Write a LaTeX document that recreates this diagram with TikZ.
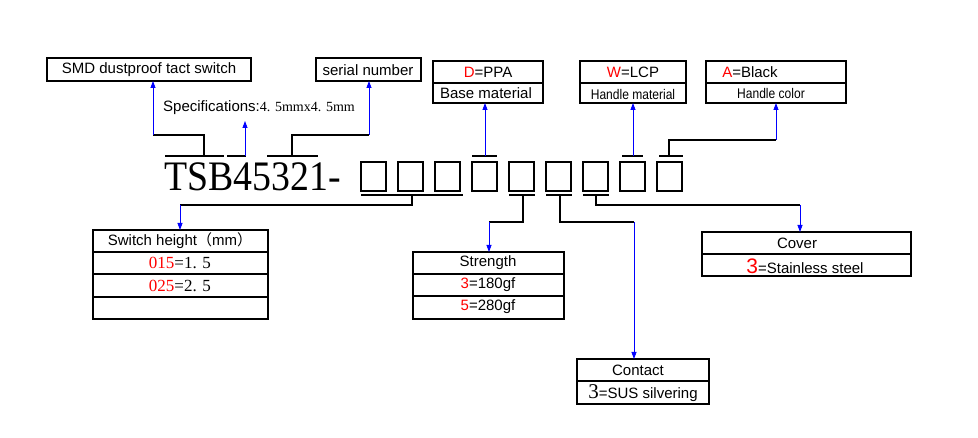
\documentclass[tikz,border=0pt]{standalone}
\usepackage{fontspec}
\setmainfont{Liberation Sans}
\newfontfamily\serifnum{Liberation Serif}
\newfontfamily\cjk{Noto Sans CJK SC}
\usetikzlibrary{arrows.meta}
\begin{document}
\begin{tikzpicture}[x=1pt,y=-1pt,
  bx/.style={line width=1.6pt},
  ln/.style={line width=1.3pt},
  arr/.style={blue,line width=0.8pt,-{Triangle[length=7pt,width=5pt]}},
  lbl/.style={inner sep=0pt,font=\fontsize{15}{15}\selectfont},
  nm/.style={inner sep=0pt,font=\serifnum\fontsize{17}{17}\selectfont}]
\useasboundingbox[fill=white] (0,0) rectangle (978,438);
% top boxes
\draw[bx] (47,58) rectangle (251,81);
\node[lbl] (smd) at (149,70) {SMD dustproof tact switch};
\coordinate (smdb) at (153,81);
\draw[bx] (316,58) rectangle (421,81);
\node[lbl] (ser) at (368,70) {serial number};
\coordinate (serb) at (369,81);
\draw[bx] (433,61) rectangle (543,103); \draw[bx] (433,83)--(543,83);
\node[lbl] (d) at (488,72) {\textcolor{red}{D}=PPA};
\node[lbl] (dm) at (486,93) {Base material};
\coordinate (db) at (485,103);
\draw[bx] (580,61) rectangle (686,103); \draw[bx] (580,83)--(686,83);
\node[lbl] (w) at (633,72) {\textcolor{red}{W}=LCP};
\node[lbl,font=\fontsize{14}{14}\selectfont,xscale=0.86] (wm) at (633,94) {Handle material};
\coordinate (wb) at (633,103);
\draw[bx] (706,61) rectangle (846,103); \draw[bx] (706,83)--(846,83);
\node[lbl] (a) at (750,72) {\textcolor{red}{A}=Black};
\node[lbl,font=\fontsize{14}{14}\selectfont,xscale=0.86] (am) at (771,93) {Handle color};
\coordinate (ab) at (776,103);
\node[lbl,anchor=west] (spec) at (163,108) {Specifications:{\serifnum\fontsize{14}{14}\selectfont 4. 5mmx4. 5mm}};
% main code
\node[inner sep=0pt,anchor=base west,font=\serifnum\fontsize{42}{42}\selectfont,xscale=0.9] (code) at (164,191) {TSB45321-};
\foreach \i in {0,...,8}{
  \draw[ln] ({361+37*\i},162) rectangle ({386+37*\i},191);
}
% overlines
\draw[ln] (165,156)--(224,156); \draw[ln] (227,156)--(246,156); \draw[ln] (267,156)--(318,156);
\draw[ln] (472,156)--(497,156); \draw[ln] (622,156)--(643,156); \draw[ln] (659,156)--(683,156);
\coordinate (o1) at (204,156); \coordinate (o2) at (245,156); \coordinate (o3) at (292,156);
\coordinate (o4) at (485,156); \coordinate (o8) at (633,156); \coordinate (o9) at (669,156);
\draw[ln] (o1)--(204,135)--(153,135); \draw[arr] (153,135)--(smdb);
\draw[arr] (o2)--(245,121);
\draw[ln] (o3)--(292,135)--(369,135); \draw[arr] (369,135)--(serb);
\draw[arr] (o4)--(db);
\draw[arr] (o8)--(wb);
\draw[ln] (o9)--(669,140)--(776,140); \draw[arr] (776,140)--(ab);
% underlines
\draw[ln] (361,195)--(463,195); \draw[ln] (509,195)--(535,195);
\draw[ln] (546,195)--(572,195); \draw[ln] (583,195)--(609,195);
\coordinate (u1) at (412,195); \coordinate (u5) at (523,195);
\coordinate (u6) at (560,195); \coordinate (u7) at (596,195);
% bottom boxes
\draw[bx] (93,230) rectangle (268,319);
\foreach \y in {252,274,297} \draw[bx] (93,\y)--(268,\y);
\node[lbl] (sh) at (180,241) {Switch height{\cjk （}mm{\cjk ）}};
\node[nm] (s1) at (180,263) {\textcolor{red}{015}=1. 5};
\node[nm] (s2) at (180,286) {\textcolor{red}{025}=2. 5};
\coordinate (sht) at (180,230);
\draw[bx] (413,252) rectangle (564,319);
\foreach \y in {274,296} \draw[bx] (413,\y)--(564,\y);
\node[lbl] (st) at (488,263) {Strength};
\node[lbl] (st1) at (488,285) {\textcolor{red}{3}=180gf};
\node[lbl] (st2) at (488,307) {\textcolor{red}{5}=280gf};
\coordinate (stt) at (489,252);
\draw[bx] (702,232) rectangle (911,276); \draw[bx] (702,254)--(911,254);
\node[lbl] (cv) at (797,243) {Cover};
\node[lbl] (cv1) at (805,266) {\textcolor{red}{\fontsize{21}{21}\selectfont 3}=Stainless steel};
\coordinate (cvt) at (800,232);
\draw[bx] (577,359) rectangle (709,404); \draw[bx] (577,381)--(709,381);
\node[lbl] (ct) at (638,370) {Contact};
\node[lbl] (ct1) at (643,393) {{\serifnum\fontsize{21}{21}\selectfont 3}=SUS silvering};
\coordinate (ctt) at (634,359);
\draw[ln] (u1)--(412,205)--(180,205); \draw[arr] (180,205)--(sht);
\draw[ln] (u5)--(523,222)--(489,222); \draw[arr] (489,222)--(stt);
\draw[ln] (u6)--(560,222)--(634,222); \draw[arr] (634,222)--(ctt);
\draw[ln] (u7)--(596,205)--(800,205); \draw[arr] (800,205)--(cvt);
\end{tikzpicture}
\end{document}
